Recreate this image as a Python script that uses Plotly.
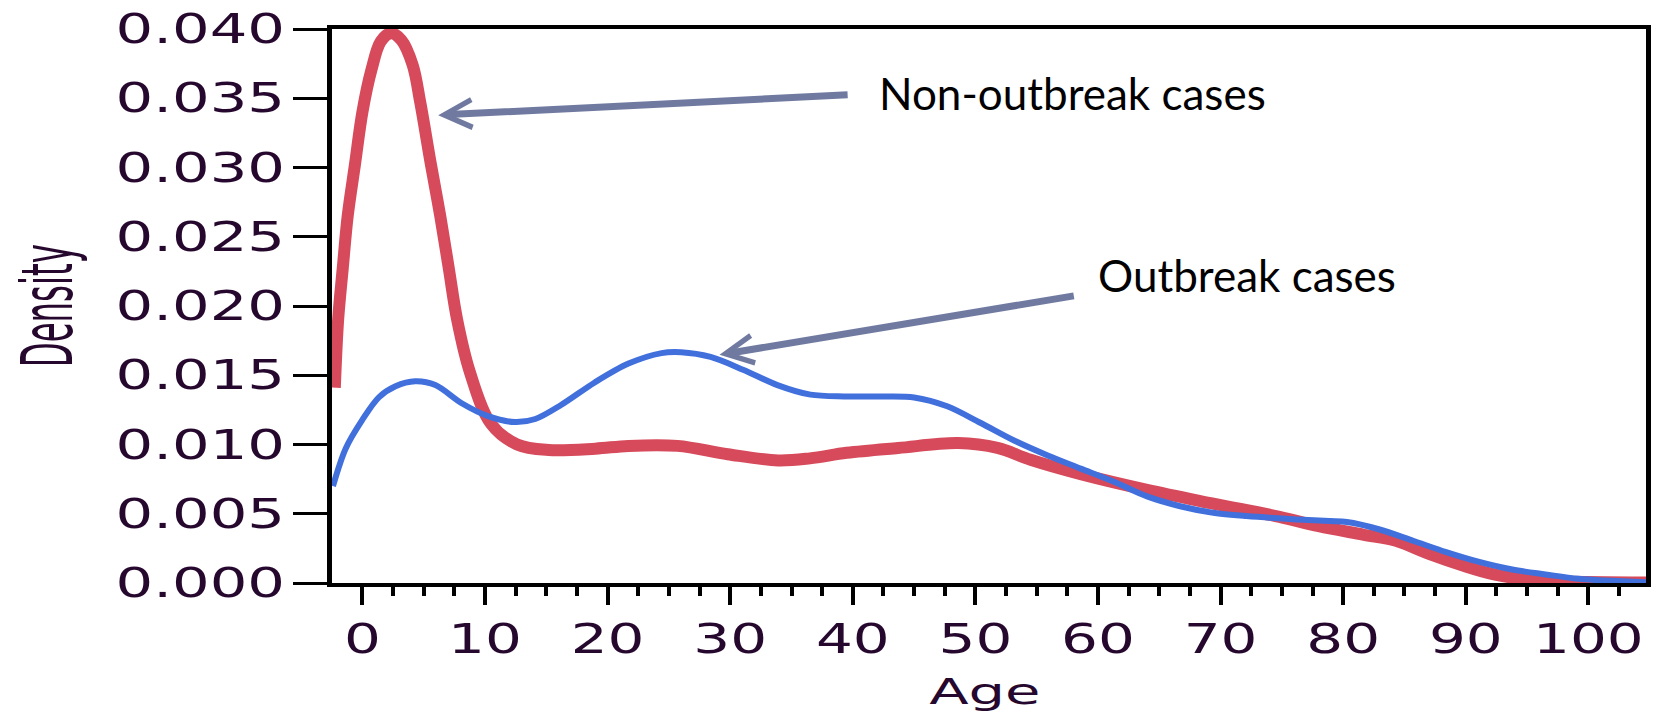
import plotly.graph_objects as go

# Kernel density of age, non-outbreak cases
age_non_outbreak = [-2.25, -1.98, -1.6, -1.2, -0.6, 0.0, 0.75, 1.5, 2.32, 3.18, 4.1, 4.72,
                    5.58, 6.35, 7.04, 7.73, 8.76, 10.48, 12.62, 15.2, 19.0, 21.7, 25.7, 29.8,
                    33.9, 36.5, 39.5, 43.7, 48.6, 51.8, 54.5, 58.6, 64.0, 69.4, 74.8, 78.0,
                    81.6, 84.3, 87.0, 89.7, 92.4, 95.1, 98.0, 104.7]
density_non_outbreak = [0.0141, 0.0190, 0.02275, 0.0265, 0.03026, 0.0340, 0.0371, 0.0391,
                        0.0397, 0.0392, 0.0374, 0.0347, 0.03026, 0.0265, 0.02275, 0.0190,
                        0.01525, 0.0115, 0.0100, 0.0096, 0.0097, 0.0099, 0.0099, 0.0093,
                        0.00885, 0.0090, 0.0094, 0.00975, 0.0101, 0.00975, 0.0089, 0.00786,
                        0.00672, 0.00573, 0.00478, 0.0041, 0.0035, 0.00305, 0.0021, 0.00128,
                        0.0006, 0.00025, 0.0001, 0.00003]

# Kernel density of age, outbreak cases
age_outbreak = [-2.4, -1.37, -0.02, 1.34, 2.7, 4.3, 5.95, 8.1, 10.3, 12.45, 14.1, 16.2, 18.95,
                21.7, 24.4, 26.0, 28.4, 31.1, 33.85, 36.55, 39.3, 42.5, 45.0, 47.7, 50.4,
                53.2, 55.9, 58.6, 61.3, 64.0, 66.7, 69.4, 72.1, 76.2, 78.9, 80.3, 82.9, 85.7,
                88.4, 91.1, 93.8, 96.5, 99.2, 104.7]
density_outbreak = [0.0070, 0.0097, 0.01176, 0.0134, 0.0142, 0.01456, 0.01429, 0.01298, 0.01203,
                    0.01162, 0.01184, 0.01285, 0.01448, 0.01584, 0.0166, 0.01666, 0.01632,
                    0.01538, 0.01429, 0.0136, 0.01347, 0.01347, 0.0134, 0.01276, 0.01157,
                    0.01027, 0.00921, 0.00826, 0.00731, 0.00625, 0.00554, 0.00507, 0.00483,
                    0.00459, 0.00447, 0.0044, 0.00388, 0.00305, 0.00223, 0.00152, 0.00097,
                    0.00062, 0.0003, 0.00005]

x_tick_values = [0, 10, 20, 30, 40, 50, 60, 70, 80, 90, 100]
x_tick_labels = ["0", "10", "20", "30", "40", "50", "60", "70", "80", "90", "100"]
y_tick_values = [0.000, 0.005, 0.010, 0.015, 0.020, 0.025, 0.030, 0.035, 0.040]
y_tick_labels = ["0.000", "0.005", "0.010", "0.015", "0.020", "0.025", "0.030", "0.035", "0.040"]

RED = "#D64A5B"
BLUE = "#4170DD"
ARROW = "#707AA0"
TICK_INK = "#26082e"

fig = go.Figure()
fig.add_trace(go.Scatter(
    x=age_non_outbreak, y=density_non_outbreak, mode="lines", name="Non-outbreak cases",
    line=dict(color=RED, width=12, shape="spline", smoothing=1.0), hoverinfo="skip"))
fig.add_trace(go.Scatter(
    x=age_outbreak, y=density_outbreak, mode="lines", name="Outbreak cases",
    line=dict(color=BLUE, width=6, shape="spline", smoothing=0.9), hoverinfo="skip"))

tick_font = dict(family="DejaVu Sans", size=40, color=TICK_INK)

fig.update_layout(
    width=1657, height=712,
    margin=dict(l=332, r=6, t=22, b=129),
    plot_bgcolor="white", paper_bgcolor="white",
    showlegend=False, hovermode=False,
)
fig.update_xaxes(
    range=[-2.48, 104.7], tickmode="array", tickvals=x_tick_values, ticktext=x_tick_labels,
    ticks="outside", ticklen=18, tickwidth=4, tickcolor="black",
    showline=True, linewidth=4, linecolor="black", mirror=True,
    showgrid=False, zeroline=False, tickfont=tick_font, ticklabeloverflow="allow",
    minor=dict(tickmode="linear", tick0=0, dtick=2.5, ticks="outside",
               ticklen=9, tickwidth=4, tickcolor="black", showgrid=False),
)
fig.update_yaxes(
    range=[0, 0.040], tickmode="array", tickvals=y_tick_values, ticktext=y_tick_labels,
    ticks="outside", ticklen=34, tickwidth=3, tickcolor="black",
    showline=True, linewidth=5, linecolor="black", mirror=True,
    showgrid=False, zeroline=False, tickfont=tick_font, ticklabeloverflow="allow",
)

# Axis titles
fig.add_annotation(text="Density", xref="paper", yref="paper", x=-0.2176, y=0.5009,
                   textangle=-90, showarrow=False, xanchor="center", yanchor="middle",
                   font=dict(family="DejaVu Sans", size=72, color=TICK_INK))
fig.add_annotation(text="Age", xref="paper", yref="paper", x=0.4966, y=-0.196,
                   showarrow=False, xanchor="center", yanchor="middle",
                   font=dict(family="DejaVu Sans", size=36, color=TICK_INK))

# Callout arrows and labels
fig.add_annotation(x=6.18, y=0.03378, ax=39.7, ay=0.03526, axref="x", ayref="y",
                   xref="x", yref="y", text="", showarrow=True, arrowhead=5,
                   arrowsize=0.78, arrowwidth=7, arrowcolor=ARROW)
fig.add_annotation(x=29.13, y=0.01648, ax=58.15, ay=0.02075, axref="x", ayref="y",
                   xref="x", yref="y", text="", showarrow=True, arrowhead=5,
                   arrowsize=0.78, arrowwidth=7, arrowcolor=ARROW)
fig.add_annotation(x=41.95, y=0.0354, xref="x", yref="y", text="Non-outbreak cases",
                   showarrow=False, xanchor="left", yanchor="middle",
                   font=dict(family="Lato", size=44, color="black"))
fig.add_annotation(x=59.86, y=0.02225, xref="x", yref="y", text="Outbreak cases",
                   showarrow=False, xanchor="left", yanchor="middle",
                   font=dict(family="Lato", size=44, color="black"))

# Widen the axis lettering horizontally and condense the rotated y title
stretch_js = """
var gd = document.getElementById('{plot_id}');
function widen(sel, k) {
  gd.querySelectorAll(sel).forEach(function (t) {
    var w = t.getComputedTextLength();
    t.setAttribute('textLength', (w * k).toFixed(1));
    t.setAttribute('lengthAdjust', 'spacingAndGlyphs');
  });
}
widen('g.xtick text', 1.45);
widen('g.ytick text', 1.48);
gd.querySelectorAll('text.annotation-text').forEach(function (t) {
  if (t.textContent === 'Age') {
    t.setAttribute('textLength', (t.getComputedTextLength() * 1.6).toFixed(1));
    t.setAttribute('lengthAdjust', 'spacingAndGlyphs');
  }
  if (t.textContent === 'Density') {
    t.setAttribute('textLength', '123');
    t.setAttribute('lengthAdjust', 'spacingAndGlyphs');
  }
});
"""

fig.write_html("out.html", config={"displayModeBar": False, "responsive": False},
               post_script=stretch_js)
